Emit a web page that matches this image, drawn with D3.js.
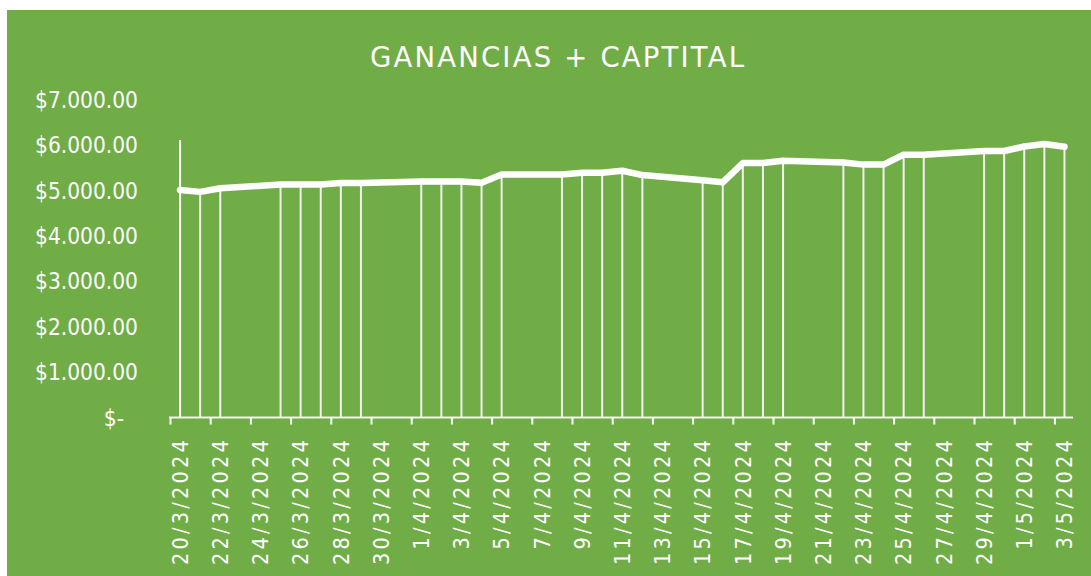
<!DOCTYPE html>
<html><head><meta charset="utf-8">
<script src="https://cdn.jsdelivr.net/npm/d3@7"></script>
<style>html,body{margin:0;padding:0;background:#fff;}svg{display:block;}</style>
</head><body>
<script>
const title = "GANANCIAS + CAPTITAL";
const dates = ["2024-03-20","2024-03-21","2024-03-22","2024-03-25","2024-03-26","2024-03-27","2024-03-28","2024-03-29",
  "2024-04-01","2024-04-02","2024-04-03","2024-04-04","2024-04-05","2024-04-08","2024-04-09","2024-04-10","2024-04-11","2024-04-12",
  "2024-04-15","2024-04-16","2024-04-17","2024-04-18","2024-04-19","2024-04-22","2024-04-23","2024-04-24","2024-04-25","2024-04-26",
  "2024-04-29","2024-04-30","2024-05-01","2024-05-02","2024-05-03"];
const values = [5010,4970,5050,5130,5130,5130,5165,5165,
  5200,5200,5200,5170,5350,5350,5390,5390,5435,5340,
  5225,5180,5605,5605,5655,5615,5570,5570,5790,5790,
  5870,5870,5970,6025,5965];
const firstLineTop = 6110;
const yTicks = [0,1000,2000,3000,4000,5000,6000,7000];
const yTickLabels = ["$-","$1.000.00","$2.000.00","$3.000.00","$4.000.00","$5.000.00","$6.000.00","$7.000.00"];
const xTickLabels = ["20/3/2024","22/3/2024","24/3/2024","26/3/2024","28/3/2024","30/3/2024","1/4/2024","3/4/2024",
  "5/4/2024","7/4/2024","9/4/2024","11/4/2024","13/4/2024","15/4/2024","17/4/2024","19/4/2024","21/4/2024",
  "23/4/2024","25/4/2024","27/4/2024","29/4/2024","1/5/2024","3/5/2024"];

const W = 1091, H = 576;
const GREEN = "#70AD47";
const svg = d3.select("body").append("svg").attr("width", W).attr("height", H);
svg.append("rect").attr("x", 7).attr("y", 10).attr("width", W).attr("height", H).attr("fill", GREEN);

const parse = d3.utcParse("%Y-%m-%d");
const parseLbl = d3.utcParse("%d/%m/%Y");
const DAY = 864e5;
const x = d3.scaleUtc().domain([parse("2024-03-20"), new Date(+parse("2024-05-03") + DAY)]).range([170, 1074.5]);
const y = d3.scaleLinear().domain([0, 7000]).range([417.5, 99.7]);
const font = "'DejaVu Sans Condensed','DejaVu Sans',sans-serif";

const pts = dates.map((d, i) => ({ t: new Date(+parse(d) + DAY / 2), v: values[i] }));

// title
svg.append("text").attr("x", 557).attr("y", 66.5).attr("text-anchor", "middle")
  .attr("font-family", "'DejaVu Sans',sans-serif").attr("font-size", 27.5).attr("fill", "#fff")
  .attr("textLength", 374).attr("lengthAdjust", "spacing").text(title);

// y labels
svg.append("g").selectAll("text").data(yTicks).join("text")
  .attr("x", (d) => d === 0 ? 124 : 138).attr("y", (d) => y(d)).attr("dy", "0.36em")
  .attr("text-anchor", "end").attr("font-family", font).attr("font-size", 22.5).attr("fill", "#fff")
  .text((d, i) => yTickLabels[i]);

// drop lines
svg.append("g").selectAll("line").data(pts).join("line")
  .attr("x1", (d) => x(d.t)).attr("x2", (d) => x(d.t))
  .attr("y1", (d) => y(d.v)).attr("y2", y(0))
  .attr("stroke", "#f2f2f2").attr("stroke-width", 2);
svg.append("line").attr("x1", x(pts[0].t)).attr("x2", x(pts[0].t))
  .attr("y1", y(firstLineTop)).attr("y2", y(0)).attr("stroke", "#fff").attr("stroke-width", 2);

// x axis
const tickDates = xTickLabels.map((s) => parseLbl(s));
const axis = d3.axisBottom(x).tickValues(tickDates).tickSize(7).tickFormat("");
const gx = svg.append("g").attr("transform", `translate(0,${y(0)})`).call(axis);
gx.select(".domain").attr("d", `M169,0H1073`).attr("stroke", "#f2f2f2").attr("stroke-width", 2);
gx.selectAll(".tick line").attr("stroke", "#fff").attr("stroke-width", 2);

svg.append("g").selectAll("text").data(tickDates).join("text")
  .attr("transform", (d) => `translate(${x(new Date(+d + DAY / 2))},437) rotate(-90)`)
  .attr("dy", "0.36em").attr("text-anchor", "end")
  .attr("font-family", font).attr("font-size", 21.5).attr("letter-spacing", "3.2px").attr("fill", "#fff")
  .text((d, i) => xTickLabels[i]);

// line
const line = d3.line().x((d) => x(d.t)).y((d) => y(d.v));
svg.append("path").datum(pts).attr("d", line).attr("fill", "none")
  .attr("stroke", "#fff").attr("stroke-width", 6.5).attr("stroke-linejoin", "round").attr("stroke-linecap", "round");
</script>
</body></html>
